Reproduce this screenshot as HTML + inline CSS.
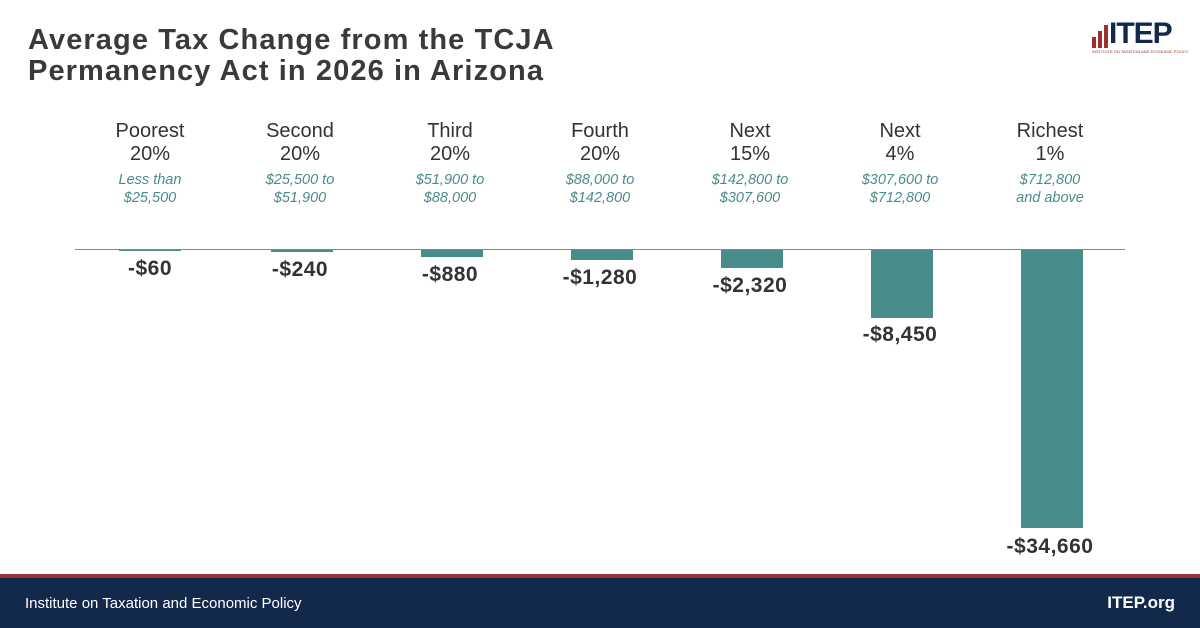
<!DOCTYPE html>
<html><head><meta charset="utf-8"><style>
body{margin:0;width:1200px;height:628px;position:relative;background:#fff;font-family:"Liberation Sans",sans-serif;color:#333;overflow:hidden}
.t{position:absolute;left:28px;top:25px;font-size:29px;font-weight:bold;line-height:31px;color:#3a3a3a;letter-spacing:1.1px}
.col{position:absolute;width:150px;text-align:center;top:120px}
.h{font-size:20px;line-height:23px;color:#333}
.s{font-size:14.5px;font-style:italic;line-height:18px;color:#4a8c8a;margin-top:5px}
.bar{position:absolute;width:62px;background:#4a8c8a;top:250px}
.v{position:absolute;width:150px;text-align:center;font-weight:bold;font-size:21px;line-height:24px;color:#333;letter-spacing:0.5px}
</style></head><body>
<div class="t">Average Tax Change from the TCJA<br>Permanency Act in 2026 in Arizona</div>
<div style="position:absolute;left:1092px;top:18px;width:80px;height:36px">
<div style="position:absolute;left:0;top:19px;width:4px;height:11px;background:#9e2f2f"></div>
<div style="position:absolute;left:6px;top:13px;width:4px;height:17px;background:#9e2f2f"></div>
<div style="position:absolute;left:12px;top:7px;width:4px;height:23px;background:#9e2f2f"></div>
<div style="position:absolute;left:17px;top:1px;font-size:30px;font-weight:bold;line-height:30px;color:#13294b;letter-spacing:-1px">ITEP</div>
<div style="position:absolute;left:0;top:31px;font-size:4px;color:#9e2f2f;white-space:nowrap">INSTITUTE ON TAXATION AND ECONOMIC POLICY</div>
</div>
<div class="col" style="left:75px"><div class="h">Poorest<br>20%</div><div class="s">Less than<br>$25,500</div></div>
<div class="col" style="left:225px"><div class="h">Second<br>20%</div><div class="s">$25,500 to<br>$51,900</div></div>
<div class="col" style="left:375px"><div class="h">Third<br>20%</div><div class="s">$51,900 to<br>$88,000</div></div>
<div class="col" style="left:525px"><div class="h">Fourth<br>20%</div><div class="s">$88,000 to<br>$142,800</div></div>
<div class="col" style="left:675px"><div class="h">Next<br>15%</div><div class="s">$142,800 to<br>$307,600</div></div>
<div class="col" style="left:825px"><div class="h">Next<br>4%</div><div class="s">$307,600 to<br>$712,800</div></div>
<div class="col" style="left:975px"><div class="h">Richest<br>1%</div><div class="s">$712,800<br>and above</div></div>
<div style="position:absolute;left:75px;top:249px;width:1050px;height:1px;background:#888"></div>
<div class="bar" style="left:119px;height:0.5px"></div>
<div class="bar" style="left:271px;height:2px"></div>
<div class="bar" style="left:421px;height:7px"></div>
<div class="bar" style="left:571px;height:10px"></div>
<div class="bar" style="left:721px;height:18px"></div>
<div class="bar" style="left:871px;height:68px"></div>
<div class="bar" style="left:1021px;height:278px"></div>
<div class="v" style="left:75px;top:257px">-$60</div>
<div class="v" style="left:225px;top:258px">-$240</div>
<div class="v" style="left:375px;top:263px">-$880</div>
<div class="v" style="left:525px;top:266px">-$1,280</div>
<div class="v" style="left:675px;top:274px">-$2,320</div>
<div class="v" style="left:825px;top:323px">-$8,450</div>
<div class="v" style="left:975px;top:535px">-$34,660</div>
<div style="position:absolute;left:0;top:574px;width:1200px;height:4px;background:#9e2f2f"></div>
<div style="position:absolute;left:0;top:578px;width:1200px;height:50px;background:#13294b"></div>
<div style="position:absolute;left:25px;top:595px;font-size:15px;color:#fff">Institute on Taxation and Economic Policy</div>
<div style="position:absolute;right:25px;top:593px;font-size:17px;font-weight:bold;color:#fff">ITEP.org</div>
</body></html>
